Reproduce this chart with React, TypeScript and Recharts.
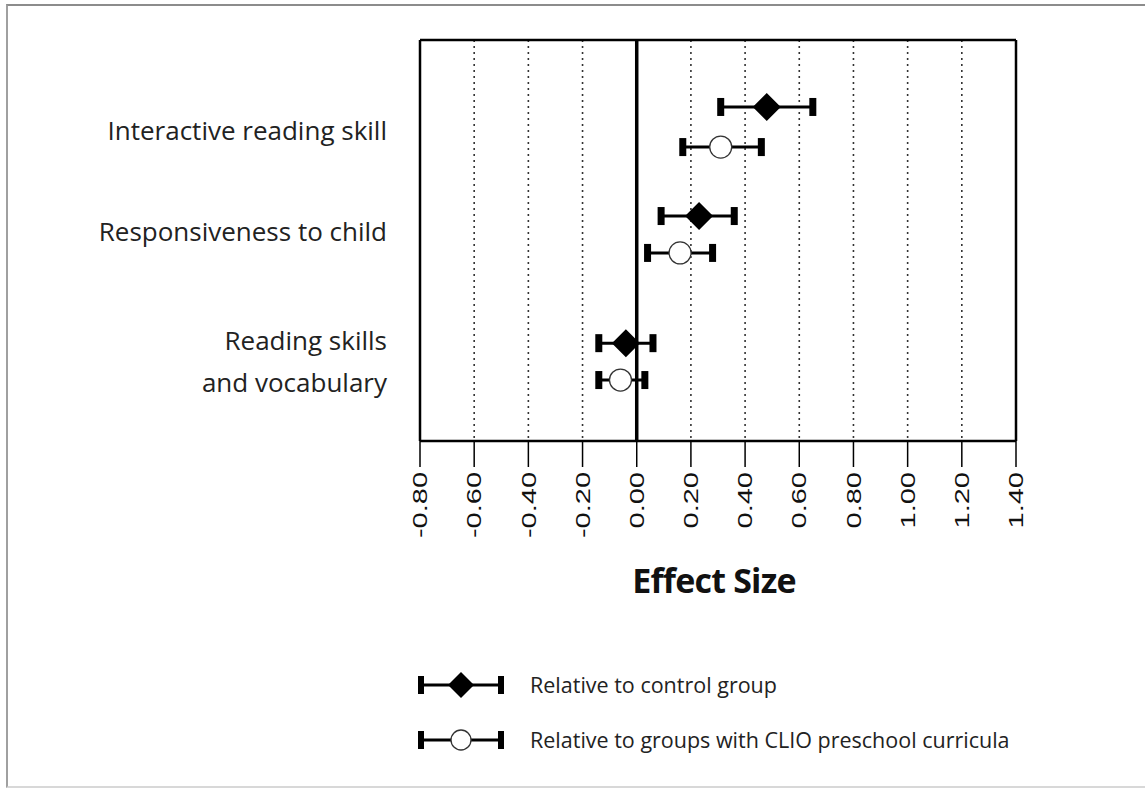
import React from 'react';
import { ScatterChart, Scatter, XAxis, YAxis, CartesianGrid, ReferenceLine, ErrorBar, Legend } from 'recharts';

const categories = ['Interactive reading skill', 'Responsiveness to child', 'Reading skills\nand vocabulary'];
const labelRow = [7.73, 5.19, 1.97];

const controlEst = [0.48, 0.23, -0.04];
const controlLo = [0.31, 0.09, -0.14];
const controlHi = [0.65, 0.36, 0.06];
const controlRow = [8.33, 5.61, 2.44];

const clioEst = [0.31, 0.16, -0.06];
const clioLo = [0.17, 0.04, -0.14];
const clioHi = [0.46, 0.28, 0.03];
const clioRow = [7.33, 4.69, 1.52];

const xTicks = [-0.8, -0.6, -0.4, -0.2, 0, 0.2, 0.4, 0.6, 0.8, 1.0, 1.2, 1.4];
const seriesNames = ['Relative to control group', 'Relative to groups with CLIO preschool curricula'];

const mkMain = (est: number[], lo: number[], hi: number[], row: number[]) =>
  est.map((e, i) => ({ x: e, y: row[i], err: [e - lo[i], hi[i] - e] }));
const mkCaps = (lo: number[], hi: number[], row: number[]) => [
  ...lo.map((v, i) => ({ x: v, y: row[i] })),
  ...hi.map((v, i) => ({ x: v, y: row[i] })),
];

const controlData = mkMain(controlEst, controlLo, controlHi, controlRow);
const clioData = mkMain(clioEst, clioLo, clioHi, clioRow);
const controlCaps = mkCaps(controlLo, controlHi, controlRow);
const clioCaps = mkCaps(clioLo, clioHi, clioRow);

const SANS = '"Open Sans", Lato, sans-serif';

const Cap = (p: any) => <rect x={p.cx - 3.5} y={p.cy - 9} width={7} height={18} fill="#000" />;
const Diamond = (p: any) => (
  <path d={`M${p.cx},${p.cy - 14} L${p.cx + 14},${p.cy} L${p.cx},${p.cy + 14} L${p.cx - 14},${p.cy} Z`} fill="#000" />
);
const Circle = (p: any) => <circle cx={p.cx} cy={p.cy} r={11} fill="#fff" stroke="#333" strokeWidth={1.3} />;

const XTick = (p: any) => {
  const v: number = p.payload.value;
  return (
    <text
      transform={`translate(${p.x},${p.y + 3}) rotate(-90) scale(1.45,1)`}
      textAnchor="end"
      dy="0.36em"
      fontSize={20}
      fontFamily='"Liberation Sans", Arial, sans-serif'
      fill="#111"
    >
      {v.toFixed(2)}
    </text>
  );
};

const YTick = (p: any) => {
  const idx = labelRow.indexOf(p.payload.value);
  const lines = (categories[idx] || '').split('\n');
  const lh = 42;
  return (
    <text x={387} y={p.y} textAnchor="end" fontSize={26} fontFamily={SANS} fill="#222">
      {lines.map((l, i) => (
        <tspan key={i} x={387} dy={i === 0 ? `${-((lines.length - 1) * lh) / 2 + 8.5}` : lh}>
          {l}
        </tspan>
      ))}
    </text>
  );
};

const LegendContent = () => (
  <svg width={720} height={100}>
    {seriesNames.map((name, i) => {
      const cy = 20 + i * 55;
      return (
        <g key={name}>
          <line x1={11} x2={91} y1={cy} y2={cy} stroke="#000" strokeWidth={3} />
          <rect x={8} y={cy - 9} width={6} height={18} fill="#000" />
          <rect x={88} y={cy - 9} width={6} height={18} fill="#000" />
          {i === 0 ? (
            <path d={`M51,${cy - 13} L64,${cy} L51,${cy + 13} L38,${cy} Z`} fill="#000" />
          ) : (
            <circle cx={51} cy={cy} r={10} fill="#fff" stroke="#333" strokeWidth={1.3} />
          )}
          <text x={120} y={cy} dy="0.35em" fontSize={21.5} fontFamily={SANS} fill="#222">
            {name}
          </text>
        </g>
      );
    })}
  </svg>
);

export default function App() {
  return (
    <div style={{ position: 'absolute', left: 0, top: 0, width: 1145, height: 789, background: '#fff', overflow: 'hidden' }}>
      <div
        style={{
          position: 'absolute',
          left: 6,
          top: 4,
          width: 1139,
          height: 784,
          borderTop: '2px solid #8c8c8c',
          borderLeft: '2px solid #a0a0a0',
          borderBottom: '2px solid #d8d8d8',
          boxSizing: 'border-box',
        }}
      />
      <div style={{ position: 'absolute', left: 0, top: 0 }}>
        <ScatterChart width={1145} height={789} margin={{ top: 40, right: 129, left: 20, bottom: 188 }}>
          <CartesianGrid horizontal={false} vertical strokeDasharray="2 4" stroke="#333" strokeWidth={1.6} />
          <XAxis
            type="number"
            dataKey="x"
            domain={[-0.8, 1.4]}
            ticks={xTicks}
            allowDataOverflow
            height={160}
            tickSize={26}
            tickLine={{ stroke: '#000', strokeWidth: 1.5 }}
            axisLine={{ stroke: '#000', strokeWidth: 2.5 }}
            tick={<XTick />}
            interval={0}
            label={{
              value: 'Effect Size',
              position: 'insideBottom',
              offset: 8,
              dx: -4,
              style: { fontSize: 34, fontWeight: 700, fontFamily: SANS, fill: '#111', letterSpacing: '-0.8px' },
            }}
          />
          <YAxis
            type="number"
            dataKey="y"
            domain={[0, 10]}
            ticks={labelRow}
            width={400}
            tickSize={0}
            tickLine={false}
            axisLine={{ stroke: '#000', strokeWidth: 2.5 }}
            tick={<YTick />}
            interval={0}
          />
          <ReferenceLine x={0} stroke="#000" strokeWidth={3.5} />
          <ReferenceLine x={1.4} stroke="#000" strokeWidth={2.5} />
          <ReferenceLine y={10} stroke="#000" strokeWidth={2.5} />
          <Scatter data={controlCaps} shape={<Cap />} legendType="none" isAnimationActive={false} />
          <Scatter data={clioCaps} shape={<Cap />} legendType="none" isAnimationActive={false} />
          <Scatter name={seriesNames[0]} data={controlData} shape={<Diamond />} isAnimationActive={false}>
            <ErrorBar dataKey="err" direction="x" width={0} strokeWidth={3} stroke="#000" isAnimationActive={false} />
          </Scatter>
          <Scatter name={seriesNames[1]} data={clioData} shape={<Circle />} isAnimationActive={false}>
            <ErrorBar dataKey="err" direction="x" width={0} strokeWidth={3} stroke="#000" isAnimationActive={false} />
          </Scatter>
          <Legend
            layout="vertical"
            align="center"
            verticalAlign="middle"
            content={<LegendContent />}
            wrapperStyle={{ left: 410, top: 665, width: 720, height: 100 }}
          />
        </ScatterChart>
      </div>
    </div>
  );
}
